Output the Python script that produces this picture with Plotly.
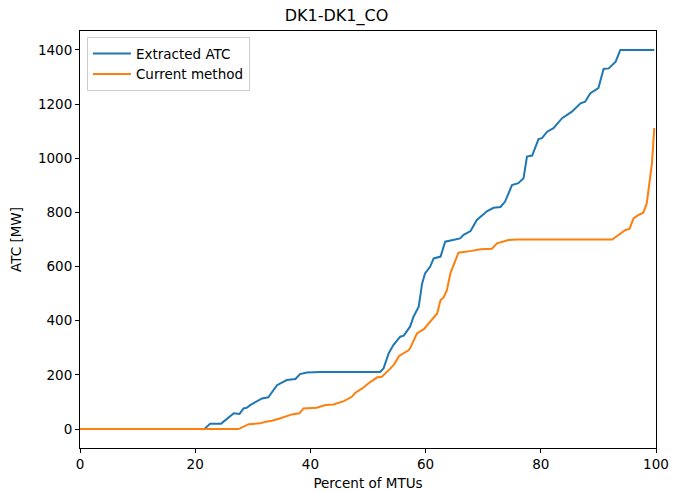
import plotly.graph_objects as go

# Extracted ATC
x_atc = [0, 21.6, 22.6, 24.5, 26.7, 27.7, 28.4, 29.0, 29.6, 30.7, 31.6, 32.7, 34.2, 34.8,
         35.9, 37.4, 38.2, 39.4, 41.7, 52.1, 52.7, 53.6, 54.4, 55.6, 56.2, 57.3, 57.9,
         58.8, 59.4, 59.9, 60.8, 61.4, 62.6, 63.4, 66.0, 66.6, 67.8, 68.9, 70.7, 71.8,
         73.0, 73.8, 75.0, 76.1, 77.0, 77.6, 78.5, 79.6, 80.2, 81.1, 82.2, 83.7, 85.4,
         86.9, 87.7, 88.6, 90.0, 90.9, 91.8, 93.0, 93.8, 99.7]
y_atc = [0, 0, 20, 20, 58, 56, 76, 79, 89, 101, 113, 117, 162, 169,
         181, 185, 203, 209, 211, 211, 224, 280, 310, 341, 345, 378, 415,
         452, 538, 575, 600, 630, 637, 692, 704, 717, 731, 772, 805, 817,
         820, 840, 901, 908, 926, 1006, 1010, 1071, 1074, 1098, 1111, 1148, 1172,
         1203, 1209, 1240, 1259, 1330, 1332, 1357, 1400, 1400]

# Current method
x_cur = [0, 27.5, 29.3, 31.3, 32.2, 33.3, 34.8, 36.8, 38.1, 38.8, 41.1, 42.6, 44.0, 45.8,
         47.2, 47.8, 49.0, 50.1, 51.6, 52.4, 53.9, 54.6, 55.4, 57.1, 57.3, 58.5, 59.7,
         60.8, 62.0, 62.6, 63.1, 63.7, 64.3, 65.2, 65.7, 68.0, 69.5, 71.5, 72.4, 74.4,
         75.9, 92.4, 93.5, 94.7, 95.4, 96.1, 96.9, 97.8, 98.4, 98.9, 99.3, 99.7]
y_cur = [0, 0, 18, 21, 27, 31, 40, 54, 58, 76, 79, 89, 91, 103,
         119, 134, 150, 169, 191, 193, 224, 241, 270, 292, 298, 353, 369,
         396, 427, 477, 485, 513, 575, 624, 651, 658, 664, 666, 686, 698,
         700, 700, 717, 735, 739, 778, 790, 799, 834, 920, 981, 1112]

fig = go.Figure()
fig.add_trace(go.Scatter(x=x_atc, y=y_atc, mode="lines", name="Extracted ATC",
                         line=dict(color="#1f77b4", width=2)))
fig.add_trace(go.Scatter(x=x_cur, y=y_cur, mode="lines", name="Current method",
                         line=dict(color="#ff7f0e", width=2)))

ejes = dict(showline=True, linecolor="black", linewidth=1, mirror=True, showgrid=False,
            zeroline=False, ticks="outside", ticklen=4, tickcolor="black", automargin=False,
            tickfont=dict(size=13.5, color="black"))
fig.update_xaxes(title=dict(text="Percent of MTUs", font=dict(size=13.5, color="black"), standoff=13),
                 range=[0, 100], tickvals=[0, 20, 40, 60, 80, 100], **ejes)
fig.update_yaxes(title=dict(text="ATC [MW]", font=dict(size=13.5, color="black"), standoff=13),
                 range=[-70, 1470], tickvals=[0, 200, 400, 600, 800, 1000, 1200, 1400], **ejes)

fig.update_layout(
    width=673, height=491,
    margin=dict(l=80, r=17, t=31, b=43),
    paper_bgcolor="white", plot_bgcolor="white",
    font=dict(family="DejaVu Sans", color="black"),
    title=dict(text="DK1-DK1_CO", x=0.5, xanchor="center", y=0.969, yanchor="middle",
               font=dict(size=16, color="black")),
    showlegend=True,
    legend=dict(x=0.012, y=0.985, xanchor="left", yanchor="top", itemwidth=38,
                bgcolor="rgba(255,255,255,0.8)", bordercolor="#cccccc", borderwidth=1,
                font=dict(size=13.5, color="black"), tracegroupgap=0),
)

# quitar el margen de 8px del body para que la figura quede en (0,0)
fig.write_html("out.html", config={"displayModeBar": False},
               post_script="document.body.style.margin='0';")
